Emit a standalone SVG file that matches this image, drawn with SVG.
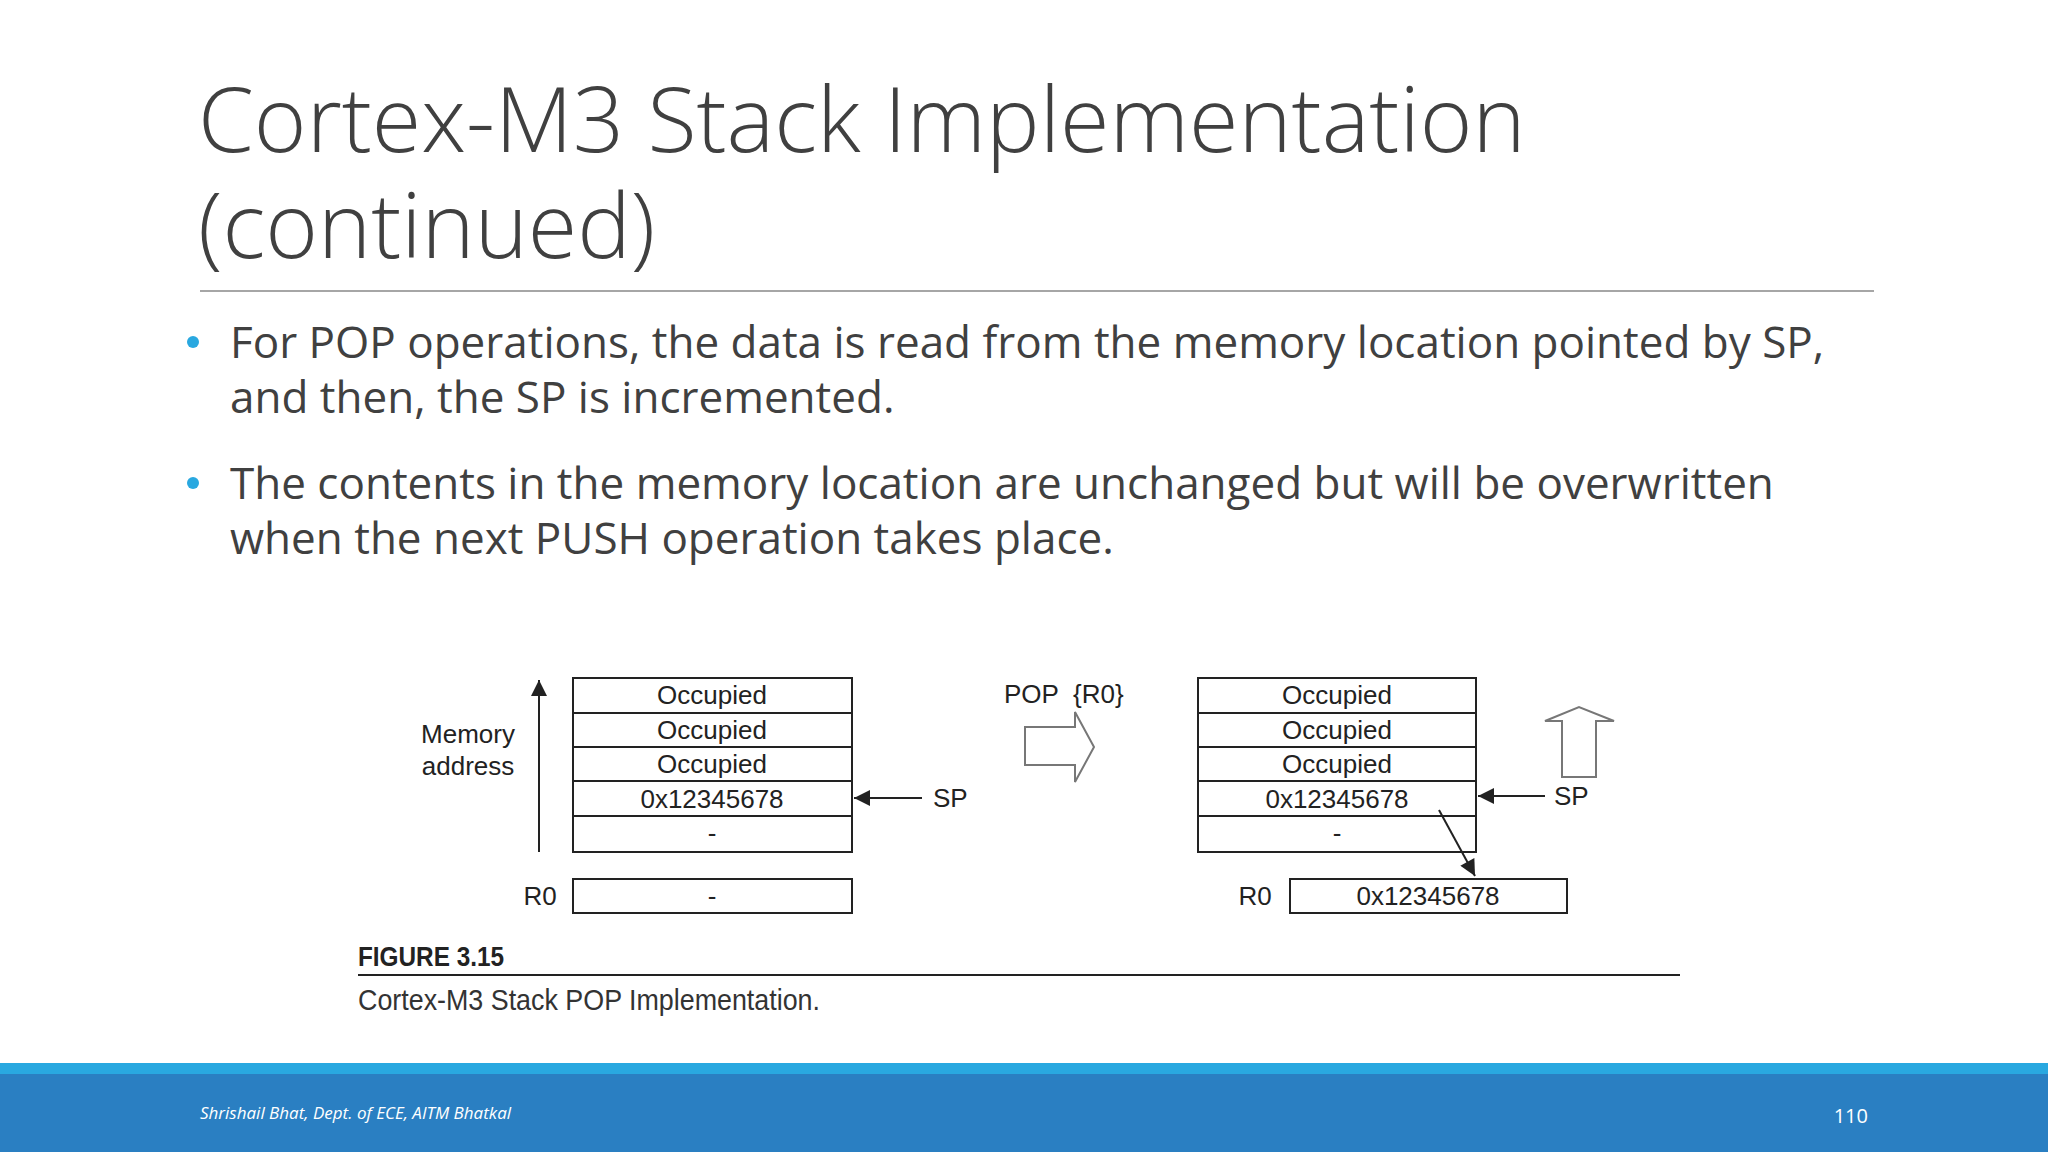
<svg xmlns="http://www.w3.org/2000/svg" width="2048" height="1152" viewBox="0 0 2048 1152">
<style>
.t{font-family:"Open Sans","Liberation Sans",sans-serif;fill:#404040}
.b{font-family:"Open Sans","Liberation Sans",sans-serif;font-size:44px;fill:#404040}
.c{font-family:"Liberation Sans",Arial,sans-serif;font-size:26px;fill:#222;text-anchor:middle}
.l{font-family:"Liberation Sans",Arial,sans-serif;font-size:26px;fill:#222}
.cell{fill:#fff;stroke:#222;stroke-width:2}
.ln{stroke:#222;stroke-width:2;fill:none}
.hol{fill:#fff;stroke:#777;stroke-width:2}
</style>
<defs>
<marker id="ahb" viewBox="0 0 10 10" refX="10" refY="5" markerWidth="24" markerHeight="16" markerUnits="userSpaceOnUse" orient="auto"><path d="M0,0L10,5L0,10z" fill="#222"/></marker>
</defs>
<rect width="2048" height="1152" fill="#fff"/>
<text class="t" x="198" y="152" font-size="90" font-weight="300">Cortex-M3 Stack Implementation</text>
<text class="t" x="198" y="258" font-size="90" font-weight="300">(continued)</text>
<line x1="200" y1="291" x2="1874" y2="291" stroke="#a6a6a6" stroke-width="2"/>
<circle cx="193" cy="342" r="6" fill="#29a8e0"/>
<text class="b" x="230" y="358">For POP operations, the data is read from the memory location pointed by SP,</text>
<text class="b" x="230" y="413">and then, the SP is incremented.</text>
<circle cx="193" cy="483" r="6" fill="#29a8e0"/>
<text class="b" x="230" y="499" font-size="44.6">The contents in the memory location are unchanged but will be overwritten</text>
<text class="b" x="230" y="554" font-size="44.6">when the next PUSH operation takes place.</text>

<g id="left-stack">
<rect class="cell" x="573" y="678" width="279" height="35"/>
<rect class="cell" x="573" y="713" width="279" height="34"/>
<rect class="cell" x="573" y="747" width="279" height="34"/>
<rect class="cell" x="573" y="781" width="279" height="35"/>
<rect class="cell" x="573" y="816" width="279" height="36"/>
<text class="c" x="712" y="704">Occupied</text>
<text class="c" x="712" y="739">Occupied</text>
<text class="c" x="712" y="773">Occupied</text>
<text class="c" x="712" y="808">0x12345678</text>
<text class="c" x="712" y="842">-</text>
</g>
<g id="left-r0">
<rect class="cell" x="573" y="879" width="279" height="34"/>
<text class="c" x="712" y="905">-</text>
<text class="c" x="540" y="905">R0</text>
</g>
<g id="mem-label">
<text class="c" x="468" y="743">Memory</text>
<text class="c" x="468" y="775">address</text>
</g>
<g id="left-sp"><text class="l" x="933" y="807">SP</text></g>
<g id="pop-label"><text class="l" x="1004" y="703">POP</text><text class="l" x="1073" y="703">{R0}</text></g>

<g id="right-stack">
<rect class="cell" x="1198" y="678" width="278" height="35"/>
<rect class="cell" x="1198" y="713" width="278" height="34"/>
<rect class="cell" x="1198" y="747" width="278" height="34"/>
<rect class="cell" x="1198" y="781" width="278" height="35"/>
<rect class="cell" x="1198" y="816" width="278" height="36"/>
<text class="c" x="1337" y="704">Occupied</text>
<text class="c" x="1337" y="739">Occupied</text>
<text class="c" x="1337" y="773">Occupied</text>
<text class="c" x="1337" y="808">0x12345678</text>
<text class="c" x="1337" y="842">-</text>
</g>
<g id="right-r0">
<rect class="cell" x="1290" y="879" width="277" height="34"/>
<text class="c" x="1428" y="905">0x12345678</text>
<text class="c" x="1255" y="905">R0</text>
</g>
<g id="right-sp"><text class="l" x="1554" y="805">SP</text></g>

<g id="connectors">
<line class="ln" x1="539" y1="852" x2="539" y2="680" marker-end="url(#ahb)"/>
<line class="ln" x1="922" y1="798" x2="854" y2="798" marker-end="url(#ahb)"/>
<line class="ln" x1="1545" y1="796" x2="1478" y2="796" marker-end="url(#ahb)"/>
<line class="ln" x1="1439" y1="810" x2="1475" y2="876" marker-end="url(#ahb)"/>
<path class="hol" d="M1025,727H1075V712L1094,747L1075,782V765H1025Z"/>
<path class="hol" d="M1562,777V721H1545L1579,707L1614,721H1596V777Z"/>
</g>

<g id="caption">
<text x="358" y="966" font-family="Liberation Sans,sans-serif" font-weight="bold" font-size="28" fill="#222" textLength="146" lengthAdjust="spacingAndGlyphs">FIGURE 3.15</text>
<line x1="358" y1="975" x2="1680" y2="975" stroke="#222" stroke-width="2"/>
<text x="358" y="1010" font-family="Liberation Sans,sans-serif" font-size="29" fill="#333" textLength="462" lengthAdjust="spacingAndGlyphs">Cortex-M3 Stack POP Implementation.</text>
</g>

<rect x="0" y="1063" width="2048" height="11" fill="#29a8e0"/>
<rect x="0" y="1074" width="2048" height="78" fill="#2a7fc2"/>
<text x="200" y="1119" font-family="Open Sans,Liberation Sans,sans-serif" font-style="italic" font-size="17" fill="#fff">Shrishail Bhat, Dept. of ECE, AITM Bhatkal</text>
<text x="1868" y="1123" font-family="Open Sans,Liberation Sans,sans-serif" font-size="20" fill="#fff" text-anchor="end">110</text>
</svg>
